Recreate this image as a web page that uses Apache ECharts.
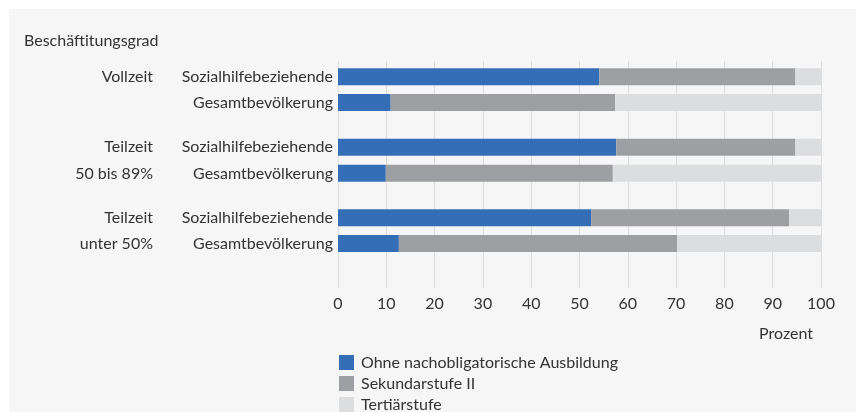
<!DOCTYPE html>
<html>
<head>
<meta charset="utf-8">
<script src="https://cdn.jsdelivr.net/npm/echarts@6/dist/echarts.min.js"></script>
<style>
html,body{margin:0;padding:0;background:#ffffff;}
#chart{width:856px;height:412px;}
</style>
</head>
<body>
<div id="chart"></div>
<script>
// ---- data ----
var categories = ['Sozialhilfebeziehende', 'Gesamtbevölkerung'];
var groupLabels = [['Vollzeit', ''], ['Teilzeit', '50 bis 89%'], ['Teilzeit', 'unter 50%']];
var seriesNames = ['Ohne nachobligatorische Ausbildung', 'Sekundarstufe II', 'Tertiärstufe'];
// values per group: [Sozialhilfebeziehende, Gesamtbevölkerung]
var ohneAusbildung = [[54.1, 10.9], [57.6, 9.9], [52.4, 12.6]];
var sekundarstufe = [[40.6, 46.5], [37.1, 47.0], [41.0, 57.6]];
var tertiaerstufe = [[5.3, 42.6], [5.3, 43.1], [6.6, 29.8]];
var xTicks = [0, 10, 20, 30, 40, 50, 60, 70, 80, 90, 100];
var titleText = 'Beschäftitungsgrad';
var unitText = 'Prozent';

var colors = ['#336eb6', '#9e9fa3', '#dcdddf'];
var FONT = 'Lato';
var FS = 16;
var TXT = '#333333';

var gridTops = [63.8, 134.2, 204.8];
var gridHeights = [51.6, 52.2, 51.6];

var grids = [], xAxes = [], yAxes = [], series = [];
// background grid with vertical lines and tick labels
grids.push({left: 338, right: 35, top: 61, bottom: 124, containLabel: false});
xAxes.push({
  type: 'value', gridIndex: 0, min: 0, max: 100, interval: 10,
  axisLine: {show: false}, axisTick: {show: false},
  splitLine: {show: true, lineStyle: {color: '#dedede', width: 1}},
  axisLabel: {color: TXT, fontSize: FS, fontFamily: FONT, margin: 8,
    formatter: function (v) { return xTicks.indexOf(v) >= 0 ? String(v) : ''; }}
});
yAxes.push({type: 'category', gridIndex: 0, data: [''], show: false});

var stacks = [ohneAusbildung, sekundarstufe, tertiaerstufe];
for (var g = 0; g < 3; g++) {
  var gi = g + 1;
  grids.push({left: 338, right: 35, top: gridTops[g], height: gridHeights[g]});
  xAxes.push({type: 'value', gridIndex: gi, min: 0, max: 100, show: false});
  yAxes.push({
    type: 'category', gridIndex: gi, data: categories, inverse: true,
    axisLine: {show: false}, axisTick: {show: false},
    axisLabel: {color: TXT, fontSize: FS, fontFamily: FONT, margin: 5}
  });
  yAxes.push({
    type: 'category', gridIndex: gi, data: groupLabels[g], inverse: true, position: 'left', offset: 180,
    axisLine: {show: false}, axisTick: {show: false},
    axisLabel: {color: TXT, fontSize: FS, fontFamily: FONT, margin: 5}
  });
  for (var s = 0; s < 3; s++) {
    series.push({
      name: seriesNames[s], type: 'bar', stack: 'g' + g,
      xAxisIndex: gi, yAxisIndex: 1 + g * 2,
      barWidth: 17, data: stacks[s][g],
      itemStyle: {color: colors[s]}, silent: true,
      animation: false
    });
  }
}

var chart = echarts.init(document.getElementById('chart'), null, {renderer: 'canvas'});
chart.setOption({
  animation: false,
  backgroundColor: 'transparent',
  graphic: [
    {type: 'rect', left: 9, top: 9, shape: {width: 847, height: 403}, style: {fill: '#f6f6f6'}, z: -10, silent: true},
    {type: 'text', left: 24, top: 33, style: {text: titleText, fill: TXT, fontSize: FS, fontFamily: FONT}},
    {type: 'text', right: 43, top: 326, style: {text: unitText, fill: TXT, fontSize: FS, fontFamily: FONT}}
  ],
  legend: {
    orient: 'vertical', left: 339, top: 353, height: 120, padding: 0,
    itemWidth: 15, itemHeight: 15, itemGap: 2,
    data: seriesNames, icon: 'rect',
    textStyle: {color: TXT, fontSize: FS, fontFamily: FONT, padding: [0, 0, 0, 2], lineHeight: 19},
    selectedMode: false
  },
  grid: grids, xAxis: xAxes, yAxis: yAxes, series: series
});
</script>
</body>
</html>
